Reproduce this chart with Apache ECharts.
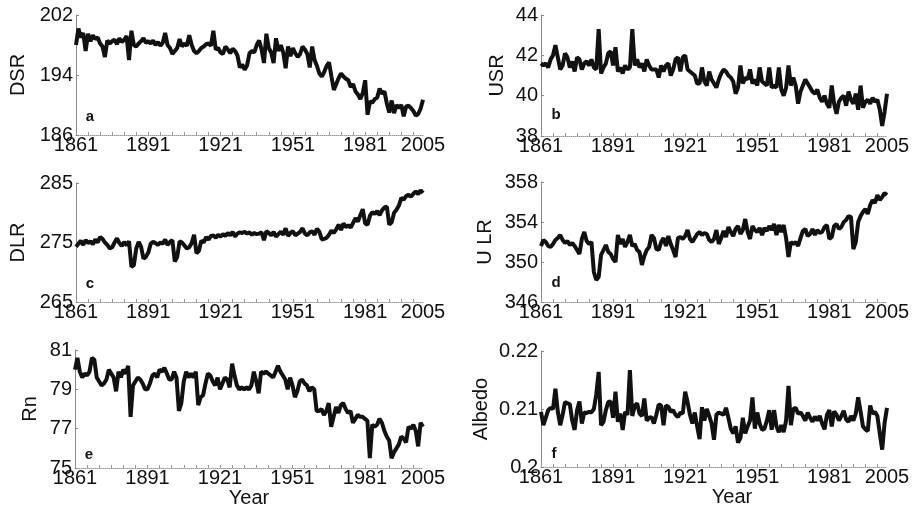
<!DOCTYPE html>
<html>
<head>
<meta charset="utf-8">
<script src="https://cdn.jsdelivr.net/npm/echarts@6/dist/echarts.min.js"></script>
<style>
  html, body { margin: 0; padding: 0; background: #fff; }
  #chart { width: 914px; height: 517px; }
</style>
</head>
<body>
<div id="chart"></div>
<script>
// years 1861..2005, one value per year
const years = [];
for (let y = 1861; y <= 2005; y++) years.push(String(y));
const yearLabels = ['1861', '1891', '1921', '1951', '1981', '2005'];

const dsr = [
  198.0, 200.2, 199.0, 199.6, 197.2, 199.5, 198.5, 199.3, 198.8, 199.0,
  198.2, 197.8, 196.4, 198.6, 198.2, 198.5, 198.7, 198.1, 198.9, 198.4,
  198.7, 199.2, 196.0, 199.9, 198.0, 197.8, 198.2, 198.5, 198.9, 198.3,
  198.5, 198.2, 198.6, 198.0, 198.4, 197.9, 198.3, 199.6, 198.0, 197.6,
  196.8, 197.2, 197.6, 198.8, 197.8, 198.2, 197.9, 199.3, 198.0, 197.2,
  196.9, 197.2, 197.6, 197.8, 198.1, 198.2, 197.9, 199.9, 197.4, 197.6,
  197.0, 196.8, 197.8, 197.4, 196.9, 197.5, 197.2, 196.6, 195.0, 195.4,
  194.7, 195.3, 196.9, 197.2, 197.0, 198.0, 198.6, 197.4, 195.6, 199.5,
  197.6, 197.0, 195.6, 198.9, 197.2, 198.0, 197.0, 194.9, 197.8, 196.5,
  197.6, 196.9, 196.4, 196.8, 197.8, 197.4, 196.8, 195.0, 197.8, 196.0,
  195.2, 194.2, 193.8, 194.4, 195.2, 195.7, 193.8, 192.0, 192.8, 193.6,
  194.2, 193.8, 193.5, 193.3, 192.4, 192.8, 191.8, 191.4, 190.8, 191.6,
  193.3, 188.7, 190.5, 190.3, 190.8, 191.0, 192.2, 191.5, 191.8, 190.2,
  189.0, 190.6, 188.9, 190.0, 189.6, 190.0, 188.5, 189.8, 189.9, 189.6,
  189.2, 188.6, 188.8, 189.5, 190.7
];

const usr = [
  41.6, 41.5, 41.6, 41.4, 41.8, 42.0, 42.5, 41.9, 41.3, 41.5,
  42.1, 41.9, 41.4, 41.7, 41.2, 41.9, 41.8, 41.3, 41.6, 41.7,
  41.5, 41.8, 41.4, 41.3, 43.3, 41.1, 41.4, 41.6, 42.1, 42.2,
  41.5, 42.4, 41.2, 41.4, 41.1, 41.5, 41.3, 41.4, 43.3, 41.5,
  41.8, 41.4, 41.6, 41.2, 41.8, 41.5, 41.3, 41.3, 41.3, 40.9,
  41.5, 41.2, 41.5, 41.6, 41.0, 41.3, 41.8, 41.9, 41.2, 41.9,
  42.0, 41.3, 41.2, 41.1, 41.0, 40.6, 40.6, 41.4, 40.7, 40.5,
  41.2, 40.8, 40.6, 40.4, 40.8, 41.1, 41.3, 41.2, 41.0, 40.9,
  40.7, 40.1, 40.4, 41.5, 40.6, 40.9, 40.8, 41.3, 40.6, 40.8,
  40.5, 41.4, 40.7, 40.6, 40.5, 41.4, 40.4, 40.5, 40.4, 41.4,
  40.3, 40.0, 40.4, 41.5, 40.5, 40.9, 40.5, 39.6, 40.2, 40.5,
  40.8, 40.6, 40.4, 40.2, 40.1, 40.3, 39.9, 39.7, 40.0, 39.6,
  39.4, 40.5, 39.6, 39.1, 39.7, 39.9, 40.0, 39.5, 40.2, 39.8,
  39.6, 40.1, 39.3, 40.5, 39.4, 39.7, 39.8, 39.6, 39.9, 39.7,
  39.8, 39.3, 38.5, 39.2, 40.1
];

const dlr = [
  274.3, 274.8, 275.3, 274.6, 275.4, 274.9, 275.2, 274.7, 275.5, 275.0,
  275.9, 275.6, 275.0, 274.6, 274.0, 274.2, 275.0, 275.7, 274.9, 274.4,
  275.1, 274.5, 275.2, 270.9, 271.2, 274.0, 275.1, 274.3, 272.3, 272.6,
  273.3, 274.8, 275.1, 274.9, 274.6, 275.0, 274.8, 275.5, 274.6, 275.1,
  275.4, 271.8, 272.6, 275.2, 275.0, 274.5, 274.0, 274.2, 274.9, 276.3,
  273.2, 273.6, 275.3, 275.0, 275.9, 275.5, 276.1, 276.2, 275.8, 276.3,
  276.0, 276.4, 276.1, 276.6, 276.2, 276.8, 276.0, 276.5, 276.7, 276.6,
  276.8, 276.5, 276.7, 276.3, 276.6, 276.4, 276.5, 276.7, 275.4, 276.9,
  276.6, 276.2, 276.8, 276.0, 276.4, 276.8, 276.3, 277.4, 276.1, 276.6,
  276.9, 276.2, 276.5, 276.8, 277.4, 276.5, 276.2, 276.7, 276.9, 276.3,
  277.3, 276.8, 275.5, 275.6, 275.8, 276.3, 277.0, 276.6, 277.2, 278.0,
  277.1, 278.2, 277.6, 277.9, 277.5, 278.3, 279.1, 278.5, 279.6, 280.6,
  278.2, 278.0, 279.5, 280.1, 279.8, 280.3, 279.6, 280.4, 280.9, 281.0,
  278.0, 278.4, 280.0, 280.5, 281.2, 282.5, 282.2, 282.8, 283.0, 282.7,
  283.2, 283.6, 283.1, 283.8, 283.3
];

const ulr = [
  351.6, 352.2, 352.0, 351.6, 351.5, 351.8, 352.2, 352.4, 352.7, 352.2,
  351.9, 352.1, 351.7, 351.9, 351.6, 351.2, 350.8, 352.3, 353.0, 352.1,
  351.8, 352.0, 349.0, 348.2, 348.5, 350.7, 351.2, 351.7, 351.0, 350.8,
  350.3, 350.0, 352.7, 351.8, 352.3, 351.5, 352.0, 352.7, 351.6, 351.8,
  351.2, 351.0, 349.7, 350.6, 351.2, 351.5, 352.7, 352.4, 351.3, 351.2,
  352.0, 352.4, 351.6, 352.6, 351.8, 351.2, 350.5, 352.4, 352.5, 352.3,
  352.6, 353.2, 352.3, 352.0, 352.4, 352.8, 353.0, 352.7, 352.9, 352.8,
  352.2, 352.0, 352.3, 353.2, 351.8, 352.4, 353.1, 352.5, 353.5, 353.0,
  352.6, 353.3, 353.6, 352.8, 353.2, 354.3, 353.0, 352.3, 353.6, 353.2,
  353.0, 353.4, 352.7, 353.4, 353.1, 353.6, 353.2, 353.8, 352.7, 353.7,
  353.0, 353.7, 352.4, 350.5, 352.0, 351.8, 352.0, 351.6, 352.4, 353.1,
  353.3, 352.6, 352.8, 353.3, 352.7, 353.2, 352.9, 353.0, 353.5, 353.7,
  352.3, 352.5, 353.6, 353.8, 353.3, 353.5, 354.0, 354.2, 354.6, 354.5,
  351.3, 352.0, 354.0, 354.6, 355.0, 355.3, 354.8, 355.7, 356.2, 355.9,
  356.7, 356.2, 356.5, 356.9, 356.7
];

const rn = [
  80.0, 80.6, 79.9, 79.6, 79.8, 79.7, 79.9, 80.6, 80.5, 79.6,
  79.4, 79.2, 79.3, 79.5, 80.0, 79.8, 79.6, 78.9, 79.9, 79.6,
  80.0, 79.8, 80.2, 77.6, 79.2, 79.4, 79.6, 79.5, 79.3, 79.0,
  79.0, 79.3, 79.7, 79.8, 79.6, 80.0, 79.9, 80.1, 79.8, 79.5,
  79.5, 79.9, 79.6, 77.9, 78.3, 79.4, 79.9, 79.6, 79.8, 79.6,
  79.9, 78.2, 78.6, 78.7, 79.3, 79.8, 79.7, 79.4, 79.2, 79.6,
  79.0, 79.3, 79.6, 79.5, 79.1, 80.3, 79.7, 79.2, 79.0, 79.1,
  79.0, 79.1, 79.0, 79.2, 79.9, 79.4, 78.8, 79.9, 79.8, 79.9,
  79.8, 79.7, 79.6, 79.9, 80.2, 79.9, 79.7, 79.5, 79.0, 79.6,
  79.2, 78.6, 78.9, 79.4, 79.5, 79.3, 79.2, 78.9, 79.1, 79.0,
  77.9, 77.9, 78.0, 77.7, 77.9, 78.3, 77.1, 77.6, 78.1, 77.8,
  78.2, 78.3, 78.0, 77.8, 77.9, 77.3, 77.5, 77.7, 77.6, 77.6,
  77.5, 77.4, 75.5, 77.2, 77.1, 77.2, 77.5, 77.3, 76.9, 76.6,
  76.4, 75.5, 75.8, 76.0, 76.2, 76.6, 76.5, 76.3, 77.1, 77.0,
  77.2, 76.9, 76.1, 77.3, 77.1
];

const albedo = [
  0.2095, 0.2072, 0.2085, 0.2098, 0.2102, 0.2100, 0.2135, 0.2095, 0.2072, 0.2090,
  0.2112, 0.2110, 0.2108, 0.2080, 0.2064, 0.2098, 0.2113, 0.2075, 0.2094, 0.2093,
  0.2095, 0.2094, 0.2100, 0.2125, 0.2164, 0.2072, 0.2078, 0.2098, 0.2112, 0.2113,
  0.2085, 0.2130, 0.2078, 0.2092, 0.2064, 0.2095, 0.2090, 0.2167, 0.2088, 0.2105,
  0.2110, 0.2092, 0.2088, 0.2118, 0.2080, 0.2085, 0.2086, 0.2075, 0.2090, 0.2108,
  0.2106, 0.2072, 0.2106, 0.2104, 0.2095, 0.2098, 0.2090, 0.2086, 0.2094, 0.2092,
  0.2130, 0.2112, 0.2090, 0.2075, 0.2094, 0.2070, 0.2048, 0.2103, 0.2080, 0.2100,
  0.2088, 0.2075, 0.2047, 0.2090, 0.2094, 0.2092, 0.2090, 0.2102, 0.2085, 0.2066,
  0.2058, 0.2070, 0.2042, 0.2050, 0.2085, 0.2058, 0.2070, 0.2080, 0.2120, 0.2066,
  0.2094, 0.2075, 0.2064, 0.2066, 0.2080, 0.2098, 0.2064, 0.2098, 0.2070, 0.2060,
  0.2072, 0.2060, 0.2080, 0.2140, 0.2072, 0.2100, 0.2102, 0.2092, 0.2094, 0.2088,
  0.2080, 0.2094, 0.2085, 0.2078, 0.2087, 0.2080, 0.2088, 0.2075, 0.2065, 0.2090,
  0.2098, 0.2070, 0.2096, 0.2090, 0.2080, 0.2088, 0.2097, 0.2082, 0.2078, 0.2088,
  0.2080, 0.2092, 0.2120, 0.2096, 0.2070, 0.2065, 0.2062, 0.2106, 0.2092, 0.2095,
  0.2088, 0.2058, 0.2030, 0.2076, 0.2102
];

const font = '"Liberation Sans", Arial, sans-serif';

// one entry per panel: grid box, y range, axis name, letter
const panels = [
  { data: dsr,    name: 'DSR',    min: 186,  max: 202,  step: 8,    box: [76, 15, 347, 120],  gap: 48, tag: 'a', tagPos: [90, 117] },
  { data: usr,    name: 'USR',    min: 38,   max: 44,   step: 2,    box: [541, 15, 346, 121], gap: 34, tag: 'b', tagPos: [556, 115] },
  { data: dlr,    name: 'DLR',    min: 265,  max: 285,  step: 10,   box: [76, 183, 347, 119], gap: 48, tag: 'c', tagPos: [90, 284] },
  { data: ulr,    name: 'U LR',   min: 346,  max: 358,  step: 4,    box: [541, 182, 346, 120], gap: 46, tag: 'd', tagPos: [556, 283] },
  { data: rn,     name: 'Rn',     min: 75,   max: 81,   step: 2,    box: [75, 350, 348, 118], gap: 35, tag: 'e', tagPos: [89, 455] },
  { data: albedo, name: 'Albedo', min: 0.2,  max: 0.22, step: 0.01, box: [541, 351, 346, 116], gap: 50, tag: 'f', tagPos: [554, 454] }
];

const grid = [], xAxis = [], yAxis = [], series = [], graphic = [];

panels.forEach((p, i) => {
  grid.push({ left: p.box[0], top: p.box[1], width: p.box[2], height: p.box[3] });

  const bottomRow = i >= 4;
  xAxis.push({
    type: 'category',
    gridIndex: i,
    data: years,
    boundaryGap: false,
    name: bottomRow ? 'Year' : '',
    nameLocation: 'middle',
    nameGap: 20,
    nameTextStyle: { color: '#111', fontSize: 20, fontFamily: font, padding: i === 5 ? [0, 0, 0, 36] : 0 },
    axisLine: { lineStyle: { color: '#999', width: 1, type: 'dotted' } },
    axisTick: {
      inside: true, length: 3,
      interval: (idx) => idx % 5 === 0,
      lineStyle: { color: '#999', width: 1 }
    },
    axisLabel: {
      margin: 0,
      color: '#111',
      fontSize: 20,
      fontFamily: font,
      interval: (idx, val) => yearLabels.indexOf(val) >= 0
    },
    splitLine: { show: false }
  });

  yAxis.push({
    type: 'value',
    gridIndex: i,
    min: p.min,
    max: p.max,
    interval: p.step,
    name: p.name,
    nameLocation: 'middle',
    nameGap: p.gap,
    nameTextStyle: { color: '#111', fontSize: 20, fontFamily: font },
    axisLine: { show: true, lineStyle: { color: '#888', width: 1 } },
    axisTick: { show: true, inside: true, length: 3, lineStyle: { color: '#888' } },
    axisLabel: { margin: 3, color: '#111', fontSize: 20, fontFamily: font },
    splitLine: { show: false }
  });

  series.push({
    type: 'line',
    xAxisIndex: i,
    yAxisIndex: i,
    data: p.data,
    showSymbol: false,
    symbol: 'none',
    lineStyle: { color: '#111', width: 4 },
    animation: false
  });

  graphic.push({
    type: 'text',
    x: p.tagPos[0],
    y: p.tagPos[1],
    style: {
      text: p.tag,
      fill: '#111',
      font: 'bold 15px ' + font,
      textAlign: 'center',
      textVerticalAlign: 'middle'
    }
  });
});

const chart = echarts.init(document.getElementById('chart'), null, { renderer: 'canvas' });
chart.setOption({
  backgroundColor: '#fff',
  animation: false,
  grid: grid,
  xAxis: xAxis,
  yAxis: yAxis,
  series: series,
  graphic: graphic
});
</script>
</body>
</html>
